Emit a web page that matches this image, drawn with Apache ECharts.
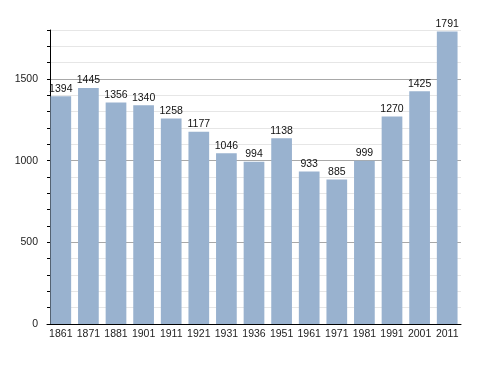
<!DOCTYPE html>
<html>
<head>
<meta charset="utf-8">
<script src="https://cdn.jsdelivr.net/npm/echarts@6/dist/echarts.min.js"></script>
<style>html,body{margin:0;padding:0;background:#fff;}#c{width:488px;height:373px;}</style>
</head>
<body>
<div id="c"></div>
<script>
const categories = ['1861','1871','1881','1901','1911','1921','1931','1936','1951','1961','1971','1981','1991','2001','2011'];
const population = [1394,1445,1356,1340,1258,1177,1046,994,1138,933,885,999,1270,1425,1791];
const yMax = 1800;
const yStep = 100;
const yLabelStep = 500;

const font = '"Liberation Sans", Arial, sans-serif';
const chart = echarts.init(document.getElementById('c'), null, {renderer: 'canvas'});
chart.setOption({
  animation: false,
  textStyle: {fontFamily: font},
  grid: {left: 47, right: 27, top: 30, bottom: 49, containLabel: false},
  xAxis: {
    type: 'category',
    data: categories,
    axisLine: {lineStyle: {color: '#000', width: 1}},
    axisTick: {show: false},
    axisLabel: {interval: 0, color: '#222', fontSize: 10.5, fontFamily: font, margin: 5}
  },
  yAxis: {
    type: 'value',
    min: 0, max: yMax, interval: yStep,
    offset: -3,
    axisLine: {show: true, lineStyle: {color: '#000', width: 1}},
    axisTick: {show: true, inside: false, length: 3, lineStyle: {color: '#000'}},
    axisLabel: {
      color: '#222', fontSize: 10.5, fontFamily: font, margin: 12,
      formatter: v => (v % yLabelStep === 0 ? String(v) : '')
    },
    splitLine: {show: true, lineStyle: {color: ['#a8a8a8', '#e6e6e6', '#e6e6e6', '#e6e6e6', '#e6e6e6'], width: 1}}
  },
  series: [{
    type: 'bar',
    data: population,
    barCategoryGap: '25%',
    itemStyle: {color: '#99b2cf'},
    label: {show: true, position: 'top', distance: 2, color: '#111', fontSize: 10.5, fontFamily: font}
  }]
});
</script>
</body>
</html>
